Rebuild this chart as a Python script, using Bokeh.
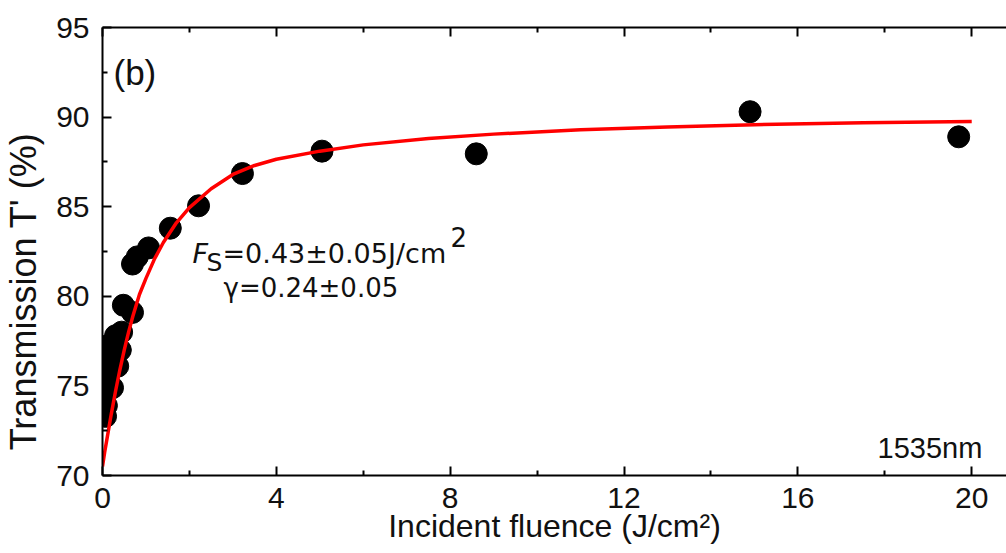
import numpy as np
from bokeh.plotting import figure
from bokeh.models import Range1d, LinearAxis, FixedTicker, Label, CustomJSTickFormatter
from bokeh.embed import file_html
from bokeh.resources import INLINE

# ---- data ----
fluence = [0.02, 0.03, 0.03, 0.03, 0.07, 0.09, 0.10, 0.15, 0.20, 0.23, 0.25, 0.30, 0.35,
           0.41, 0.44, 0.48, 0.69, 0.69, 0.80, 1.06, 1.56, 2.21, 3.22, 5.05, 8.60, 14.90, 19.70]
transmission = [75.0, 74.2, 76.0, 77.2, 73.3, 73.9, 75.5, 76.6, 77.3, 74.9, 76.0, 77.8, 76.1,
                77.0, 78.0, 79.5, 79.1, 81.8, 82.2, 82.7, 83.8, 85.05, 86.85, 88.1, 87.95, 90.3, 88.9]

fit_fluence = [0, 0.05, 0.1, 0.2, 0.3, 0.4, 0.5, 0.6, 0.7, 0.85, 1.0, 1.2, 1.4, 1.7, 2.0, 2.5,
               3.0, 3.5, 4.0, 5.0, 6.0, 7.5, 9, 11, 13, 15, 17.5, 20]
fit_transmission = [70.5, 71.3, 72.0, 73.4, 74.7, 75.9, 77.0, 78.0, 78.9, 80.1, 81.0, 82.1, 83.0,
                    84.1, 84.95, 86.0, 86.8, 87.3, 87.65, 88.1, 88.45, 88.8, 89.05, 89.3, 89.45,
                    89.58, 89.68, 89.75]

x_ticks = [0, 4, 8, 12, 16, 20]
x_minor = [2, 6, 10, 14, 18]
y_ticks = [70, 75, 80, 85, 90, 95]
y_minor = [72.5, 77.5, 82.5, 87.5, 92.5]

x_title = "Incident fluence (J/cm\u00b2)"
y_title = "Transmission T' (%)"

X0, X1 = 0, 20.8
Y0, Y1 = 70, 95
FL, FT, FW, FH = 102, 27, 904, 448  # frame in pixels


def dx(px):
    return X0 + (px - FL) * (X1 - X0) / FW


def dy(py):
    return Y1 - (py - FT) * (Y1 - Y0) / FH


FONT = "Liberation Sans"
INK = "#111111"

p = figure(width=1006, height=553, output_backend="svg", toolbar_location=None,
           x_range=Range1d(X0, X1), y_range=Range1d(Y0, Y1),
           min_border_left=FL, min_border_right=0, min_border_top=FT, min_border_bottom=553 - FT - FH)
p.grid.visible = False
p.outline_line_color = None
p.background_fill_color = "white"
p.border_fill_color = "white"


def style_axis(ax, ticks, minor, labels=True, standoff=12):
    ax.ticker = FixedTicker(ticks=ticks, minor_ticks=minor)
    ax.axis_line_color = "black"
    ax.axis_line_width = 2
    ax.major_tick_line_color = "black"
    ax.major_tick_line_width = 2
    ax.minor_tick_line_color = "black"
    ax.minor_tick_line_width = 2
    ax.major_tick_in = 9
    ax.major_tick_out = 0
    ax.minor_tick_in = 5
    ax.minor_tick_out = 0
    ax.major_label_text_font = FONT
    ax.major_label_text_font_size = "30px"
    ax.major_label_text_color = INK
    ax.major_label_standoff = standoff
    if not labels:
        ax.formatter = CustomJSTickFormatter(code="return ''")
        ax.major_label_standoff = 0


xa = p.xaxis[0]
style_axis(xa, x_ticks, x_minor, standoff=12)
xa.axis_label = x_title
xa.axis_label_text_font = FONT
xa.axis_label_text_font_size = "32px"
xa.axis_label_text_font_style = "normal"
xa.axis_label_text_color = INK
xa.axis_label_standoff = -3

ya = p.yaxis[0]
style_axis(ya, y_ticks, y_minor, standoff=13)
# trailing no-break spaces push the rotated title down, as in the reference
ya.axis_label = y_title + "\u00a0" * 8
ya.axis_label_text_font = FONT
ya.axis_label_text_font_size = "36px"
ya.axis_label_text_font_style = "normal"
ya.axis_label_text_color = INK
ya.axis_label_standoff = 9

top = LinearAxis()
style_axis(top, x_ticks, x_minor, labels=False)
p.add_layout(top, "above")

p.scatter(fluence, transmission, size=22, color="black")
p.line(fit_fluence, fit_transmission, line_color="#ff0000", line_width=3.5)

# in-plot texts
p.add_layout(Label(x=dx(113), y=dy(72), text="(b)", text_font=FONT, text_font_size="35px",
                   text_color=INK, text_align="left", text_baseline="alphabetic"))
p.add_layout(Label(x=dx(877), y=dy(447), text="1535nm", text_font=FONT, text_font_size="29px",
                   text_color=INK, text_align="left", text_baseline="alphabetic"))

AF = "DejaVu Sans"
p.add_layout(Label(x=dx(192), y=dy(253), text="F", text_font=AF, text_font_size="27px",
                   text_font_style="italic", text_color=INK,
                   text_align="left", text_baseline="alphabetic"))
p.add_layout(Label(x=dx(206), y=dy(262), text="S", text_font=AF, text_font_size="25px",
                   text_color=INK, text_align="left", text_baseline="alphabetic"))
p.add_layout(Label(x=dx(222), y=dy(253), text="=0.43\u00b10.05J/cm", text_font=AF,
                   text_font_size="27px", text_color=INK,
                   text_align="left", text_baseline="alphabetic"))
p.add_layout(Label(x=dx(450), y=dy(236), text="2", text_font=AF, text_font_size="26px",
                   text_color=INK, text_align="left", text_baseline="alphabetic"))
p.add_layout(Label(x=dx(223), y=dy(287), text="\u03b3=0.24\u00b10.05", text_font=AF,
                   text_font_size="26px", text_color=INK,
                   text_align="left", text_baseline="alphabetic"))

open("out.html", "w").write(file_html(p, INLINE))
